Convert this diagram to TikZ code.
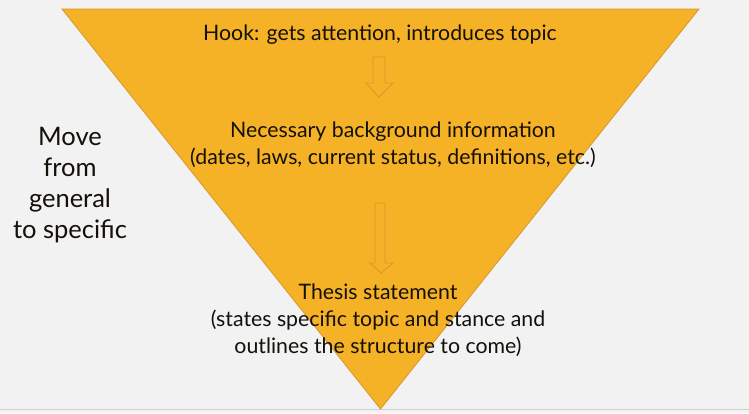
\documentclass[tikz,border=0pt]{standalone}
\usepackage{fontspec}
\setmainfont{Lato}
\definecolor{slidebg}{RGB}{242,242,242}
\definecolor{funnel}{RGB}{246,178,38}
\definecolor{funneledge}{RGB}{214,152,44}
\definecolor{ink}{RGB}{20,16,10}
\tikzset{
  blurb/.style={align=center, inner sep=0pt, anchor=base, text=ink,
    font=\fontsize{21.3}{27}\selectfont},
  downarrow/.style={draw=funneledge, line width=0.8pt, fill=funnel},
}
\begin{document}
\begin{tikzpicture}[x=1pt,y=-1pt]
  \fill[slidebg] (0,0) rectangle (749,413);
  \useasboundingbox (0,0) rectangle (749,413);
  \draw[black!18] (0,409.5) -- (749,409.5);

  % funnel
  \draw[draw=funneledge, fill=funnel, line width=0.8pt] (62,9) -- (699,9) -- (380.5,409) -- cycle;

  % base anchor sits on the last line
  \node[blurb] (hook) at (380,40) {Hook: gets attention, introduces topic};
  \node[blurb] (background) at (393,164) {Necessary background information\\(dates, laws, current status, definitions, etc.)};
  \node[blurb] (thesis) at (378,353) {Thesis statement\\(states specific topic and stance and\\outlines the structure to come)};
  \node[blurb, font=\fontsize{25.5}{31}\selectfont] (move) at (70,238) {Move\\from\\general\\to specific};

  \draw[downarrow] (373,57) -- (385,57) -- (385,83) -- (393,83) -- (379,97) -- (366,83) -- (373,83) -- cycle;
  \draw[downarrow] (375,203) -- (385,203) -- (385,263) -- (393,263) -- (381,273) -- (370,263) -- (375,263) -- cycle;
\end{tikzpicture}
\end{document}
